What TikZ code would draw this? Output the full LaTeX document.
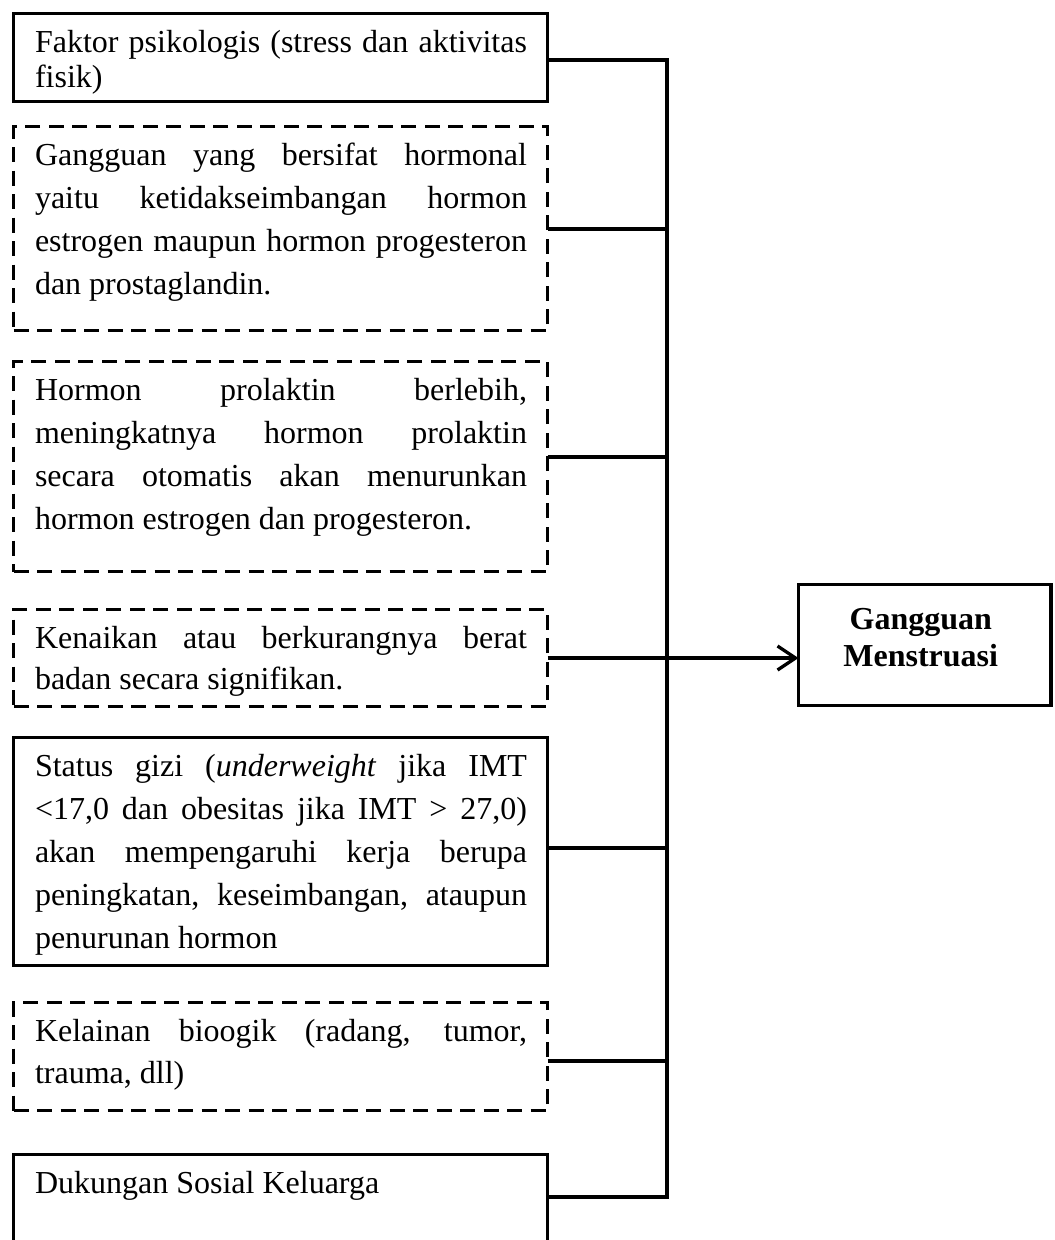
\documentclass[tikz,border=0pt]{standalone}
\usepackage{fontspec}
\setmainfont{Liberation Serif}
\usetikzlibrary{arrows.meta}
\hyphenpenalty=10000
\exhyphenpenalty=10000
\tolerance=10000
\emergencystretch=20pt
\begin{document}
\begin{tikzpicture}[x=1pt,y=-1pt,
  solidbox/.style={draw, rectangle, line width=3.2pt, inner sep=0pt, outer sep=0pt, anchor=north west},
  dashbox/.style={solidbox, dash pattern=on 15pt off 8.5pt},
  body/.style={anchor=north west, inner sep=0pt, outer sep=0pt, text width=492pt, align=justify},
  fs/.style={font=\fontsize{32}{#1}\selectfont},
  conn/.style={line width=3.3pt},
  arrowconn/.style={conn, -{Straight Barb[length=18pt,width=24pt]}}
]
\useasboundingbox (0,0) rectangle (1055,1240);
\clip (0,0) rectangle (1055,1240);

% boxes
\node[solidbox, minimum width=534pt, minimum height=88pt]  (b1) at (13.5,13.5) {};
\node[dashbox,  minimum width=534pt, minimum height=204pt] (b2) at (13.5,126.5) {};
\node[dashbox,  minimum width=534pt, minimum height=210pt] (b3) at (13.5,361.5) {};
\node[dashbox,  minimum width=534pt, minimum height=97pt]  (b4) at (13.5,609.5) {};
\node[solidbox, minimum width=534pt, minimum height=228pt] (b5) at (13.5,737.5) {};
\node[dashbox,  minimum width=534pt, minimum height=108pt] (b6) at (13.5,1002.5) {};
\node[solidbox, minimum width=534pt, minimum height=130pt] (b7) at (13.5,1154.5) {};
\node[solidbox, minimum width=252.5pt, minimum height=121pt] (gm) at (798.5,584.5) {};

% texts
\node[body, fs=35] (t1) at ([xshift=21.5pt,yshift=-13.5pt]b1.north west)
  {\rule{0pt}{25pt}Faktor psikologis (stress dan aktivitas\linebreak fisik)};
\node[body, fs=43] (t2) at ([xshift=21.5pt,yshift=-13.5pt]b2.north west)
  {\rule{0pt}{25pt}Gangguan yang bersifat hormonal\linebreak yaitu ketidakseimbangan hormon\linebreak estrogen maupun hormon progesteron\linebreak dan prostaglandin.};
\node[body, fs=43] (t3) at ([xshift=21.5pt,yshift=-13.5pt]b3.north west)
  {\rule{0pt}{25pt}Hormon prolaktin berlebih,\linebreak meningkatnya hormon prolaktin\linebreak secara otomatis akan menurunkan\linebreak hormon estrogen dan progesteron.};
\node[body, fs=41] (t4) at ([xshift=21.5pt,yshift=-13.5pt]b4.north west)
  {\rule{0pt}{25pt}Kenaikan atau berkurangnya berat\linebreak badan secara signifikan.};
\node[body, fs=43] (t5) at ([xshift=21.5pt,yshift=-13.5pt]b5.north west)
  {\rule{0pt}{25pt}Status gizi (\textit{underweight} jika IMT\linebreak <17,0 dan obesitas jika IMT > 27,0)\linebreak akan mempengaruhi kerja berupa\linebreak peningkatan, keseimbangan, ataupun\linebreak penurunan hormon};
\node[body, fs=42] (t6) at ([xshift=21.5pt,yshift=-13.5pt]b6.north west)
  {\rule{0pt}{25pt}Kelainan bioogik (radang, tumor,\linebreak trauma, dll)};
\node[body, fs=43] (t7) at ([xshift=21.5pt,yshift=-13.5pt]b7.north west)
  {\rule{0pt}{25pt}Dukungan Sosial Keluarga};
\node[inner sep=0pt, align=center, font=\fontsize{32}{37}\selectfont\bfseries] (gt)
  at ([xshift=-4pt,yshift=7.5pt]gm.center) {Gangguan\\Menstruasi};

% spine junctions
\coordinate (j1) at (667,60);
\coordinate (j2) at (667,229);
\coordinate (j3) at (667,457);
\coordinate (j4) at (667,658);
\coordinate (j5) at (667,848);
\coordinate (j6) at (667,1061);
\coordinate (j7) at (667,1197);

% connectors
\draw[conn] (j1 -| b1.east) -- (j1) -- (j7) -- (j7 -| b7.east);
\draw[conn] (j2 -| b2.east) -- (j2);
\draw[conn] (j3 -| b3.east) -- (j3);
\draw[conn] (j5 -| b5.east) -- (j5);
\draw[conn] (j6 -| b6.east) -- (j6);
\draw[arrowconn] (j4 -| b4.east) -- (j4 -| gm.west);
\end{tikzpicture}
\end{document}
